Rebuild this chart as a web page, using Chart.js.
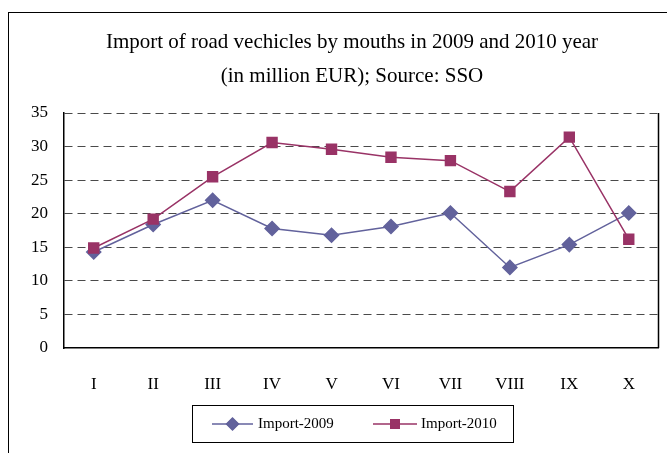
<!DOCTYPE html>
<html>
<head>
<meta charset="utf-8">
<script src="https://cdn.jsdelivr.net/npm/chart.js@4"></script>
<style>
    html, body { margin: 0; padding: 0; background: #fff; overflow: hidden; }
    #wrap { position: relative; width: 667px; height: 453px; }
    #frame {
        position: absolute; left: 8px; top: 12px;
        width: 700px; height: 500px;
        border: 1.5px solid #000; box-sizing: border-box;
    }
    canvas { position: absolute; left: 0; top: 0; }
</style>
</head>
<body>
<div id="wrap">
    <div id="frame"></div>
    <canvas id="importChart"></canvas>
</div>
<script>
// Data
const months = ['I', 'II', 'III', 'IV', 'V', 'VI', 'VII', 'VIII', 'IX', 'X'];
const import2009 = [14.3, 18.4, 22.0, 17.8, 16.8, 18.1, 20.1, 12.0, 15.4, 20.1];
const import2010 = [14.9, 19.2, 25.5, 30.6, 29.6, 28.4, 27.9, 23.3, 31.4, 16.2];
const yTicks = [0, 5, 10, 15, 20, 25, 30, 35];
const titleLines = ['Import of road vechicles by mouths in 2009 and 2010 year', '(in million EUR); Source: SSO'];

const COLORS = {
    y2009: '#62629c',
    y2010: '#993366',
    grid: '#4a4a4a',
    axis: '#000'
};
const FONT = "'Liberation Serif', 'Times New Roman', serif";

// -------------------------------
//  TITLE, PLOT FRAME + BOXED LEGEND
// -------------------------------
const framePlugin = {
    id: 'framePlugin',
    afterDraw(chart) {
        const { ctx, chartArea } = chart;
        ctx.save();

        // title, centred a bit right of the canvas like the original
        ctx.fillStyle = '#000';
        ctx.font = '21px ' + FONT;
        ctx.textAlign = 'center';
        ctx.textBaseline = 'alphabetic';
        ctx.fillText(titleLines[0], 352, 48);
        ctx.fillText(titleLines[1], 352, 82);

        // right border of the plot area
        ctx.strokeStyle = COLORS.axis;
        ctx.lineWidth = 1.5;
        ctx.beginPath();
        ctx.moveTo(chartArea.right, chartArea.top);
        ctx.lineTo(chartArea.right, chartArea.bottom);
        ctx.stroke();

        // legend box
        const box = { x: 192, y: 405, w: 321, h: 37 };
        ctx.lineWidth = 1;
        ctx.strokeStyle = '#000';
        ctx.strokeRect(box.x + 0.5, box.y + 0.5, box.w, box.h);

        const cy = box.y + box.h / 2 + 0.5;
        const items = [
            { ds: chart.data.datasets[0], x0: 212, x1: 253, tx: 258 },
            { ds: chart.data.datasets[1], x0: 373, x1: 417, tx: 421 }
        ];
        items.forEach(it => {
            ctx.strokeStyle = it.ds.borderColor;
            ctx.lineWidth = 1.5;
            ctx.beginPath();
            ctx.moveTo(it.x0, cy);
            ctx.lineTo(it.x1, cy);
            ctx.stroke();
            Chart.helpers.drawPoint(ctx, {
                pointStyle: it.ds.pointStyle,
                radius: it.ds.pointRadius - 1,
                borderWidth: 1
            }, (it.x0 + it.x1) / 2, cy);
            ctx.fillStyle = it.ds.pointBackgroundColor;
            ctx.strokeStyle = it.ds.pointBorderColor;
            ctx.fill();
            ctx.fillStyle = '#000';
            ctx.font = '15px ' + FONT;
            ctx.textBaseline = 'middle';
            ctx.textAlign = 'left';
            ctx.fillText(it.ds.label, it.tx, cy);
        });
        ctx.restore();
    }
};

const ctx = document.getElementById('importChart').getContext('2d');
new Chart(ctx, {
    type: 'line',
    data: {
        labels: months,
        datasets: [
            {
                label: 'Import-2009',
                data: import2009,
                borderColor: COLORS.y2009,
                backgroundColor: COLORS.y2009,
                pointBackgroundColor: COLORS.y2009,
                pointBorderColor: COLORS.y2009,
                pointStyle: 'rectRot',
                pointRadius: 7,
                borderWidth: 1.5,
                tension: 0,
                order: 1
            },
            {
                label: 'Import-2010',
                data: import2010,
                borderColor: COLORS.y2010,
                backgroundColor: COLORS.y2010,
                pointBackgroundColor: COLORS.y2010,
                pointBorderColor: COLORS.y2010,
                pointStyle: 'rect',
                pointRadius: 7,
                borderWidth: 1.5,
                tension: 0,
                order: 0
            }
        ]
    },
    options: {
        responsive: true,
        maintainAspectRatio: false,
        animation: false,
        layout: { padding: { left: 14, right: 6, top: 113, bottom: 55 } },
        scales: {
            x: {
                offset: true,
                grid: { display: false, drawTicks: false },
                border: { display: true, color: COLORS.axis, width: 1.5 },
                ticks: { color: '#000', font: { family: FONT, size: 17 }, padding: 26, autoSkip: false, maxRotation: 0 },
                afterFit(scale) { scale.height = 50; }
            },
            y: {
                min: 0,
                max: 35,
                afterBuildTicks(scale) { scale.ticks = yTicks.map(v => ({ value: v })); },
                grid: {
                    color: c => c.tick.value === 0 ? 'rgba(0,0,0,0)' : COLORS.grid,
                    lineWidth: 1,
                    drawTicks: false
                },
                border: { display: true, color: COLORS.axis, width: 1.5, dash: [8, 5] },
                ticks: { color: '#000', font: { family: FONT, size: 17 }, padding: 16 },
                afterFit(scale) { scale.width = 50; }
            }
        },
        plugins: {
            legend: { display: false },
            tooltip: { enabled: false },
            title: { display: false }
        }
    },
    plugins: [framePlugin]
});
</script>
</body>
</html>
